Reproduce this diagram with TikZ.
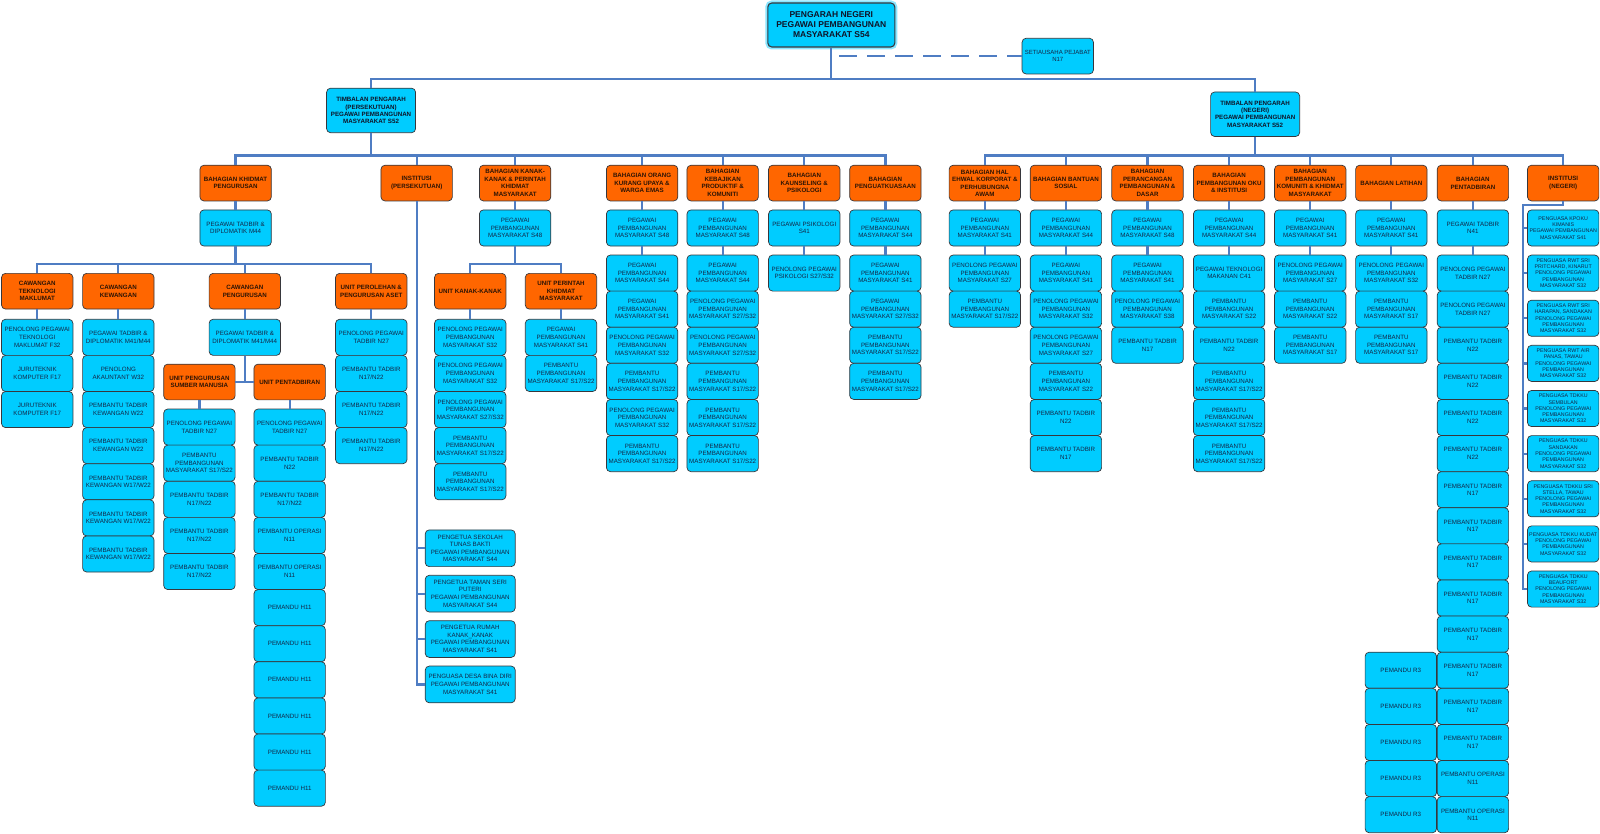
\documentclass[tikz,border=0pt]{standalone}
\usepackage{fontspec}
\setmainfont{Liberation Sans}
\usetikzlibrary{positioning}

\definecolor{cbiru}{RGB}{0,204,255}
\definecolor{coren}{RGB}{255,102,0}
\definecolor{cgaris}{RGB}{79,125,195}
\definecolor{cbingkai}{RGB}{55,55,60}
\definecolor{ctbiru}{RGB}{20,38,70}
\definecolor{ctoren}{RGB}{45,20,5}
\definecolor{ctgelap}{RGB}{15,20,40}
\definecolor{ccahaya}{RGB}{140,230,255}

\newcommand{\ppm}[1]{PEGAWAI\\PEMBANGUNAN\\MASYARAKAT #1}
\newcommand{\pppm}[1]{PENOLONG PEGAWAI\\PEMBANGUNAN\\MASYARAKAT #1}
\newcommand{\pbpm}[1]{PEMBANTU\\PEMBANGUNAN\\MASYARAKAT #1}

\tikzset{
  kotak/.style={draw=cbingkai,line width=0.7pt,rounded corners=4pt,align=center,inner sep=0.3pt},
  biru/.style={kotak,fill=cbiru,text=ctbiru,font=\fontsize{6.2}{7.6}\selectfont,minimum width=71.4pt,minimum height=36.1pt},
  kecil/.style={font=\fontsize{5.3}{6.3}\selectfont},
  oren/.style={kotak,fill=coren,text=ctoren,font=\fontsize{6.2}{7.5}\selectfont\bfseries,minimum width=71.4pt,minimum height=35.7pt},
  timbalan/.style={kotak,fill=cbiru,text=ctgelap,font=\fontsize{6.2}{7.1}\selectfont\bfseries,minimum width=89pt,minimum height=44.5pt},
  conn/.style={draw=cgaris,line width=2.3pt},
}

\begin{document}
\begin{tikzpicture}[x=1.02pt,y=-1.02pt]
\useasboundingbox (0,0) rectangle (1568.6,817.6);

% pengarah & setiausaha
\node[kotak,fill=cbiru,text=ctgelap,font=\fontsize{8.5}{10}\selectfont\bfseries,minimum width=127pt,minimum height=44pt,line width=1.1pt,preaction={draw=ccahaya,line width=5pt}] (pn) at (815,24.5) {PENGARAH NEGERI\\PEGAWAI PEMBANGUNAN\\MASYARAKAT S54};
\node[biru,font=\fontsize{6}{7.4}\selectfont,minimum height=35.7pt] (sp) at (1037,55) {SETIAUSAHA PEJABAT\\N17};
\coordinate (sp-dash) at (823,55);
\draw[conn,dash pattern=on 18pt off 10pt] (sp-dash) -- (sp);

% timbalan
\node[timbalan] (tp) at (363.8,108.3) {TIMBALAN PENGARAH\\(PERSEKUTUAN)\\PEGAWAI PEMBANGUNAN\\MASYARAKAT S52};
\node[timbalan] (tn) at (1230.5,112) {TIMBALAN PENGARAH\\(NEGERI)\\PEGAWAI PEMBANGUNAN\\MASYARAKAT S52};
\coordinate (bus-a) at (815,77.5);
\draw[conn] (pn) -- (bus-a);
\draw[conn] (bus-a) -| (tp);
\draw[conn] (bus-a) -| (tn);

% bahagian
\node[oren] (bkp) at (231,179.5) {BAHAGIAN KHIDMAT\\PENGURUSAN};
\node[oren] (ins-p) at (408.5,179.5) {INSTITUSI\\(PERSEKUTUAN)};
\node[oren] (bkk) at (505,179.5) {BAHAGIAN KANAK-\\KANAK \& PERINTAH\\KHIDMAT\\MASYARAKAT};
\node[oren] (bou) at (629.5,179.5) {BAHAGIAN ORANG\\KURANG UPAYA \&\\WARGA EMAS};
\node[oren] (bkpk) at (708.5,179.5) {BAHAGIAN\\KEBAJIKAN\\PRODUKTIF \&\\KOMUNITI};
\node[oren] (bks) at (788.5,179.5) {BAHAGIAN\\KAUNSELING \&\\PSIKOLOGI};
\node[oren] (bpk) at (868,179.5) {BAHAGIAN\\PENGUATKUASAAN};
\node[oren] (bhe) at (965.5,179.5) {BAHAGIAN HAL\\EHWAL KORPORAT \&\\PERHUBUNGNA\\AWAM};
\node[oren] (bbs) at (1045,179.5) {BAHAGIAN BANTUAN\\SOSIAL};
\node[oren] (bpd) at (1125,179.5) {BAHAGIAN\\PERANCANGAN\\PEMBANGUNAN \&\\DASAR};
\node[oren] (boku) at (1205,179.5) {BAHAGIAN\\PEMBANGUNAN OKU\\\& INSTITUSI};
\node[oren] (bkm) at (1284.5,179.5) {BAHAGIAN\\PEMBANGUNAN\\KOMUNITI \& KHIDMAT\\MASYARAKAT};
\node[oren] (blt) at (1364,179.5) {BAHAGIAN LATIHAN};
\node[oren] (bpt) at (1444,179.5) {BAHAGIAN\\PENTADBIRAN};
\node[oren] (ins-n) at (1532.5,179.5) {INSTITUSI\\(NEGERI)};

\coordinate (bus-p) at (363.8,152.5);
\coordinate (bus-n) at (1230.5,152.5);
\draw[conn] (tp) -- (bus-p);
\draw[conn] (tn) -- (bus-n);
\foreach \h in {bkp,ins-p,bkk,bou,bkpk,bks,bpk} \draw[conn] (bus-p) -| (\h);
\foreach \h in {bhe,bbs,bpd,boku,bkm,blt,bpt,ins-n} \draw[conn] (bus-n) -| (\h);

% pegawai pertama
\node[biru] (bkp-1) at (231,223.5) {PEGAWAI TADBIR \&\\DIPLOMATIK M44};
\node[biru] (bkk-1) at (505,223.5) {\ppm{S48}};
\node[biru] (bou-1) at (629.5,223.5) {\ppm{S48}};
\node[biru] (bkpk-1) at (708.5,223.5) {\ppm{S48}};
\node[biru] (bks-1) at (788.5,223.5) {PEGAWAI PSIKOLOGI\\S41};
\node[biru] (bpk-1) at (868,223.5) {\ppm{S44}};
\node[biru] (bhe-1) at (965.5,223.5) {\ppm{S41}};
\node[biru] (bbs-1) at (1045,223.5) {\ppm{S44}};
\node[biru] (bpd-1) at (1125,223.5) {\ppm{S48}};
\node[biru] (boku-1) at (1205,223.5) {\ppm{S44}};
\node[biru] (bkm-1) at (1284.5,223.5) {\ppm{S41}};
\node[biru] (blt-1) at (1364,223.5) {\ppm{S41}};
\node[biru] (bpt-1) at (1444,223.5) {PEGAWAI TADBIR\\N41};
\foreach \h in {bkp,bkk,bou,bkpk,bks,bpk,bhe,bbs,bpd,boku,bkm,blt,bpt} \draw[conn] (\h) -- (\h-1);

% lajur bahagian
\foreach \t [count=\i from 2] in {{\ppm{S44}},{\ppm{S41}},{\pppm{S32}},{\pbpm{S17/S22}},{\pppm{S32}},{\pbpm{S17/S22}}}
  \node[biru] (bou-\i) at (629.5,{267.7+35.4*(\i-2)}) {\t};
\foreach \t [count=\i from 2] in {{\ppm{S44}},{\pppm{S27/S32}},{\pppm{S27/S32}},{\pbpm{S17/S22}},{\pbpm{S17/S22}},{\pbpm{S17/S22}}}
  \node[biru] (bkpk-\i) at (708.5,{267.7+35.4*(\i-2)}) {\t};
\node[biru] (bks-2) at (788.5,267.7) {PENOLONG PEGAWAI\\PSIKOLOGI S27/S32};
\foreach \t [count=\i from 2] in {{\ppm{S41}},{\ppm{S27/S32}},{\pbpm{S17/S22}},{\pbpm{S17/S22}}}
  \node[biru] (bpk-\i) at (868,{267.7+35.4*(\i-2)}) {\t};
\foreach \t [count=\i from 2] in {{\pppm{S27}},{\pbpm{S17/S22}}}
  \node[biru] (bhe-\i) at (965.5,{267.7+35.4*(\i-2)}) {\t};
\foreach \t [count=\i from 2] in {{\ppm{S41}},{\pppm{S32}},{\pppm{S27}},{\pbpm{S22}},{PEMBANTU TADBIR\\N22},{PEMBANTU TADBIR\\N17}}
  \node[biru] (bbs-\i) at (1045,{267.7+35.4*(\i-2)}) {\t};
\foreach \t [count=\i from 2] in {{\ppm{S41}},{\pppm{S38}},{PEMBANTU TADBIR\\N17}}
  \node[biru] (bpd-\i) at (1125,{267.7+35.4*(\i-2)}) {\t};
\foreach \t [count=\i from 2] in {{PEGAWAI TEKNOLOGI\\MAKANAN C41},{\pbpm{S22}},{PEMBANTU TADBIR\\N22},{\pbpm{S17/S22}},{\pbpm{S17/S22}},{\pbpm{S17/S22}}}
  \node[biru] (boku-\i) at (1205,{267.7+35.4*(\i-2)}) {\t};
\foreach \t [count=\i from 2] in {{\pppm{S27}},{\pbpm{S22}},{\pbpm{S17}}}
  \node[biru] (bkm-\i) at (1284.5,{267.7+35.4*(\i-2)}) {\t};
\foreach \t [count=\i from 2] in {{\pppm{S32}},{\pbpm{S17}},{\pbpm{S17}}}
  \node[biru] (blt-\i) at (1364,{267.7+35.4*(\i-2)}) {\t};
\foreach \t [count=\i from 2] in {{PENOLONG PEGAWAI\\TADBIR N27},{PENOLONG PEGAWAI\\TADBIR N27},
    {PEMBANTU TADBIR\\N22},{PEMBANTU TADBIR\\N22},{PEMBANTU TADBIR\\N22},{PEMBANTU TADBIR\\N22},
    {PEMBANTU TADBIR\\N17},{PEMBANTU TADBIR\\N17},{PEMBANTU TADBIR\\N17},{PEMBANTU TADBIR\\N17},
    {PEMBANTU TADBIR\\N17},{PEMBANTU TADBIR\\N17},{PEMBANTU TADBIR\\N17},{PEMBANTU TADBIR\\N17},
    {PEMBANTU OPERASI\\N11},{PEMBANTU OPERASI\\N11}}
  \node[biru] (bpt-\i) at (1444,{267.7+35.4*(\i-2)}) {\t};
\foreach \i in {13,...,17}
  \node[biru,left=0pt of bpt-\i] (pmd-\i) {PEMANDU R3};
\foreach \h in {bou,bkpk,bks,bpk,bhe,bbs,bpd,boku,bkm,blt,bpt} \draw[conn] (\h-1) -- (\h-2);

% khidmat pengurusan
\coordinate (bus-k) at (231,259);
\draw[conn] (bkp-1) -- (bus-k);
\node[oren] (ctm) at (36.5,285.5) {CAWANGAN\\TEKNOLOGI\\MAKLUMAT};
\node[oren] (ckw) at (116,285.5) {CAWANGAN\\KEWANGAN};
\node[oren] (cpg) at (240,285.5) {CAWANGAN\\PENGURUSAN};
\node[oren] (upa) at (364,285.5) {UNIT PEROLEHAN \&\\PENGURUSAN ASET};
\foreach \h in {ctm,ckw,cpg,upa} \draw[conn] (bus-k) -| (\h);

\foreach \t [count=\i] in {{PENOLONG PEGAWAI\\TEKNOLOGI\\MAKLUMAT F32},{JURUTEKNIK\\KOMPUTER F17},{JURUTEKNIK\\KOMPUTER F17}}
  \node[biru] (ctm-\i) at (36.5,{330.7+35.4*(\i-1)}) {\t};
\foreach \t [count=\i] in {{PEGAWAI TADBIR \&\\DIPLOMATIK M41/M44},{PENOLONG\\AKAUNTANT W32},{PEMBANTU TADBIR\\KEWANGAN W22},{PEMBANTU TADBIR\\KEWANGAN W22},
    {PEMBANTU TADBIR\\KEWANGAN W17/W22},{PEMBANTU TADBIR\\KEWANGAN W17/W22},{PEMBANTU TADBIR\\KEWANGAN W17/W22}}
  \node[biru] (ckw-\i) at (116,{330.7+35.4*(\i-1)}) {\t};
\node[biru] (cpg-1) at (240,330.7) {PEGAWAI TADBIR \&\\DIPLOMATIK M41/M44};
\foreach \t [count=\i] in {{PENOLONG PEGAWAI\\TADBIR N27},{PEMBANTU TADBIR\\N17/N22},{PEMBANTU TADBIR\\N17/N22},{PEMBANTU TADBIR\\N17/N22}}
  \node[biru] (upa-\i) at (364,{330.7+35.4*(\i-1)}) {\t};

\node[oren] (usm) at (195.5,374.5) {UNIT PENGURUSAN\\SUMBER MANUSIA};
\node[oren] (upt) at (284,374.5) {UNIT PENTADBIRAN};
\coordinate (bus-c) at (240,374.5);
\draw[conn] (cpg-1) -- (bus-c);
\draw[conn] (usm) -- (upt);
\foreach \t [count=\i] in {{PENOLONG PEGAWAI\\TADBIR N27},{\pbpm{S17/S22}},{PEMBANTU TADBIR\\N17/N22},{PEMBANTU TADBIR\\N17/N22},{PEMBANTU TADBIR\\N17/N22}}
  \node[biru] (usm-\i) at (195.5,{418.7+35.4*(\i-1)}) {\t};
\foreach \t [count=\i] in {{PENOLONG PEGAWAI\\TADBIR N27},{PEMBANTU TADBIR\\N22},{PEMBANTU TADBIR\\N17/N22},{PEMBANTU OPERASI\\N11},{PEMBANTU OPERASI\\N11},
    {PEMANDU H11},{PEMANDU H11},{PEMANDU H11},{PEMANDU H11},{PEMANDU H11},{PEMANDU H11}}
  \node[biru] (upt-\i) at (284,{418.7+35.4*(\i-1)}) {\t};

% kanak-kanak
\coordinate (bus-kk) at (505,259);
\draw[conn] (bkk-1) -- (bus-kk);
\node[oren] (ukk) at (461,285.5) {UNIT KANAK-KANAK};
\node[oren] (upk) at (550,285.5) {UNIT PERINTAH\\KHIDMAT\\MASYARAKAT};
\draw[conn] (bus-kk) -| (ukk);
\draw[conn] (bus-kk) -| (upk);
\foreach \t [count=\i] in {{\pppm{S32}},{\pppm{S32}},{\pppm{S27/S32}},{\pbpm{S17/S22}},{\pbpm{S17/S22}}}
  \node[biru] (ukk-\i) at (461,{330.7+35.4*(\i-1)}) {\t};
\foreach \t [count=\i] in {{\ppm{S41}},{\pbpm{S17/S22}}}
  \node[biru] (upk-\i) at (550,{330.7+35.4*(\i-1)}) {\t};

\foreach \h in {ctm,ckw,cpg,upa,ukk,upk,usm,upt} \draw[conn] (\h) -- (\h-1);

% institusi (persekutuan)
\foreach \t [count=\i] in {{PENGETUA SEKOLAH\\TUNAS BAKTI\\PEGAWAI PEMBANGUNAN\\MASYARAKAT S44},
    {PENGETUA TAMAN SERI\\PUTERI\\PEGAWAI PEMBANGUNAN\\MASYARAKAT S44},
    {PENGETUA RUMAH\\KANAK\_KANAK\\PEGAWAI PEMBANGUNAN\\MASYARAKAT S41},
    {PENGUASA DESA BINA DIRI\\PEGAWAI PEMBANGUNAN\\MASYARAKAT S41}}
  \node[biru,minimum width=90pt,minimum height=36.7pt] (ipp-\i) at (461,{537.5+44.5*(\i-1)}) {\t};
\draw[conn] (ins-p) |- (ipp-4);
\foreach \i in {1,2,3} \draw[conn] (ins-p |- ipp-\i) -- (ipp-\i);

% institusi (negeri)
\foreach \t [count=\i] in {{PENGUASA KPOKU\\KIMANIS\\PEGAWAI PEMBANGUNAN\\MASYARAKAT S41},
    {PENGUASA RWT SRI\\PRITCHARD, KINARUT\\PENOLONG PEGAWAI\\PEMBANGUNAN\\MASYARAKAT S32},
    {PENGUASA RWT SRI\\HARAPAN, SANDAKAN\\PENOLONG PEGAWAI\\PEMBANGUNAN\\MASYARAKAT S32},
    {PENGUASA RWT AIR\\PANAS, TAWAU\\PENOLONG PEGAWAI\\PEMBANGUNAN\\MASYARAKAT S32},
    {PENGUASA TDKKU\\SEMBULAN\\PENOLONG PEGAWAI\\PEMBANGUNAN\\MASYARAKAT S32},
    {PENGUASA TDKKU\\SANDAKAN\\PENOLONG PEGAWAI\\PEMBANGUNAN\\MASYARAKAT S32},
    {PENGUASA TDKKU SRI\\STELLA, TAWAU\\PENOLONG PEGAWAI\\PEMBANGUNAN\\MASYARAKAT S32},
    {PENGUASA TDKKU KUDAT\\PENOLONG PEGAWAI\\PEMBANGUNAN\\MASYARAKAT S32},
    {PENGUASA TDKKU\\BEAUFORT\\PENOLONG PEGAWAI\\PEMBANGUNAN\\MASYARAKAT S32}}
  \node[biru,kecil] (inn-\i) at (1532.5,{223.5+44.25*(\i-1)}) {\t};
\coordinate (inn-rail) at (1493,201);
\draw[conn] (ins-n) |- (inn-rail) |- (inn-9);
\foreach \i in {1,...,8} \draw[conn] (inn-rail |- inn-\i) -- (inn-\i);

\end{tikzpicture}
\end{document}
